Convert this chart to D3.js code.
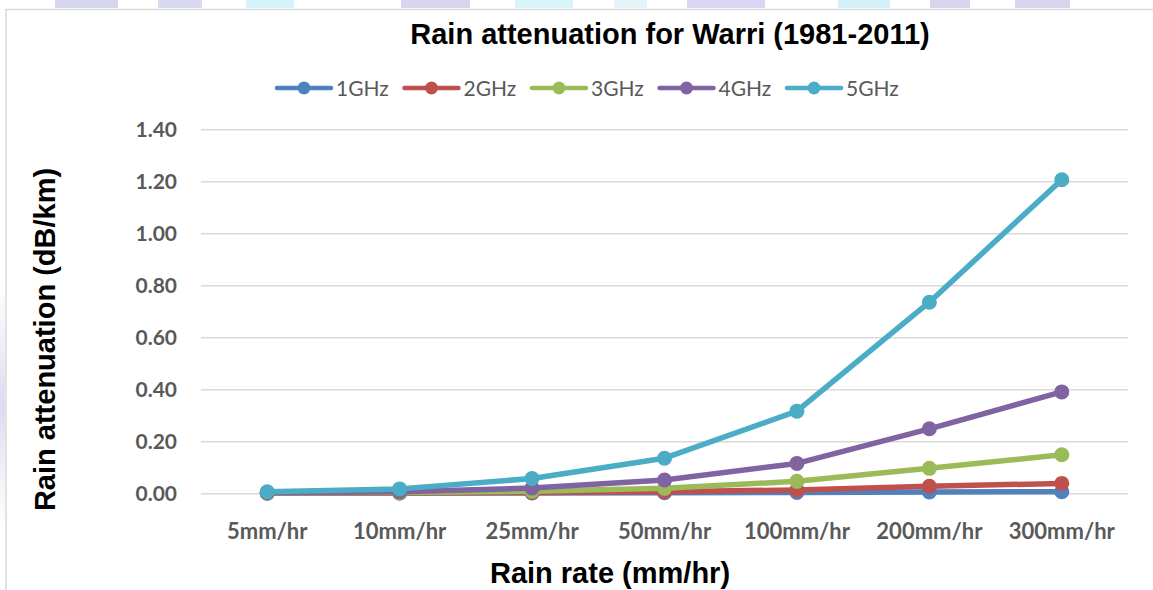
<!DOCTYPE html>
<html>
<head>
<meta charset="utf-8">
<script src="https://cdn.jsdelivr.net/npm/d3@7"></script>
<style>
  html, body { margin: 0; padding: 0; background: #fff; }
  svg { display: block; }
</style>
</head>
<body>
<script>
// Rain attenuation (dB/km) at Warri, 1981-2011, per rain rate and frequency
const categories = ["5mm/hr", "10mm/hr", "25mm/hr", "50mm/hr", "100mm/hr", "200mm/hr", "300mm/hr"];
const seriesNames = ["1GHz", "2GHz", "3GHz", "4GHz", "5GHz"];
const att1GHz = [0.000, 0.001, 0.001, 0.002, 0.003, 0.005, 0.006];
const att2GHz = [0.001, 0.001, 0.003, 0.006, 0.013, 0.027, 0.038];
const att3GHz = [0.001, 0.003, 0.008, 0.019, 0.046, 0.096, 0.148];
const att4GHz = [0.002, 0.006, 0.020, 0.051, 0.115, 0.248, 0.390];
const att5GHz = [0.006, 0.017, 0.057, 0.135, 0.316, 0.735, 1.206];
const yTicks = [0, 0.2, 0.4, 0.6, 0.8, 1.0, 1.2, 1.4];

const seriesValues = [att1GHz, att2GHz, att3GHz, att4GHz, att5GHz];
const colors = ["#4F81BD", "#C0504D", "#9BBB59", "#8064A2", "#4BACC6"];

const W = 1153, H = 590;
const svg = d3.select("body").append("svg").attr("width", W).attr("height", H);

// faint page decoration strip above the chart frame
const strip = [
  [55, 118, "#d6d6ee"], [158, 202, "#d8d8f2"], [246, 294, "#d4f2fa"], [401, 470, "#d8d6ee"],
  [515, 573, "#d8f6fa"], [614, 647, "#e4f4f8"], [687, 765, "#d8d6f2"], [838, 890, "#d4f0f8"],
  [930, 970, "#d8d6ee"], [1015, 1070, "#d8d6ee"]
];
svg.selectAll("rect.strip").data(strip).join("rect")
  .attr("x", d => d[0]).attr("y", 0).attr("width", d => d[1] - d[0]).attr("height", 8)
  .attr("fill", d => d[2]);
const grad = svg.append("defs").append("linearGradient").attr("id", "side")
  .attr("x1", 0).attr("x2", 0).attr("y1", 0).attr("y2", 1);
grad.append("stop").attr("offset", 0).attr("stop-color", "#e4e2f2").attr("stop-opacity", 0);
grad.append("stop").attr("offset", 0.5).attr("stop-color", "#dcdaf0").attr("stop-opacity", 1);
grad.append("stop").attr("offset", 1).attr("stop-color", "#e4e2f2").attr("stop-opacity", 0);
svg.append("rect").attr("x", 0).attr("y", 280).attr("width", 5).attr("height", 250).attr("fill", "url(#side)");

// chart frame (top and left edges visible)
svg.append("path").attr("d", "M6,590 V9.5 H1153")
  .attr("fill", "none").attr("stroke", "#d9d9d9").attr("stroke-width", 1.5);

const plot = { left: 201, right: 1128, top: 129.3, bottom: 493.3 };

const x = d3.scaleBand().domain(categories).range([plot.left, plot.right]);
const y = d3.scaleLinear().domain([0, 1.4]).range([plot.bottom, plot.top]);

// gridlines + y tick labels
const yAxis = d3.axisLeft(y).tickValues(yTicks).tickFormat(d3.format(".2f"))
  .tickSize(-(plot.right - plot.left)).tickPadding(24);
const gy = svg.append("g").attr("transform", `translate(${plot.left},0)`).call(yAxis);
gy.select(".domain").remove();
gy.selectAll(".tick line").attr("stroke", "#d9d9d9").attr("stroke-width", 1.5);
gy.selectAll(".tick text")
  .attr("fill", "#595959").attr("font-family", "Lato, 'Open Sans', sans-serif")
  .attr("font-weight", "bold").attr("font-size", 21).attr("dy", "0.35em");

// x tick labels
const xAxis = d3.axisBottom(x).tickSize(0).tickPadding(46);
const gx = svg.append("g").attr("transform", `translate(0,${plot.bottom})`).call(xAxis);
gx.select(".domain").remove();
gx.selectAll(".tick text")
  .attr("fill", "#595959").attr("font-family", "Lato, 'Open Sans', sans-serif")
  .attr("font-weight", "bold").attr("font-size", 22).attr("dy", 0);

// series lines and markers
const line = d3.line().x((d, i) => x(categories[i]) + x.bandwidth() / 2).y(d => y(d));
seriesValues.forEach((vals, s) => {
  const g = svg.append("g");
  g.append("path").datum(vals).attr("d", line)
    .attr("fill", "none").attr("stroke", colors[s]).attr("stroke-width", 5.5)
    .attr("stroke-linejoin", "round").attr("stroke-linecap", "round");
  g.selectAll("circle").data(vals).join("circle")
    .attr("cx", (d, i) => x(categories[i]) + x.bandwidth() / 2)
    .attr("cy", d => y(d)).attr("r", 7.5).attr("fill", colors[s]);
});

// legend
const legend = svg.append("g").attr("transform", "translate(277,88)");
seriesNames.forEach((name, s) => {
  const g = legend.append("g").attr("transform", `translate(${s * 127.5},0)`);
  g.append("line").attr("x1", 0).attr("x2", 54).attr("y1", 0).attr("y2", 0)
    .attr("stroke", colors[s]).attr("stroke-width", 4.5).attr("stroke-linecap", "round");
  g.append("circle").attr("cx", 27).attr("cy", 0).attr("r", 6.5).attr("fill", colors[s]);
  g.append("text").attr("x", 59).attr("y", 0).attr("dy", "0.36em")
    .attr("fill", "#595959").attr("font-family", "Lato, 'Open Sans', sans-serif")
    .attr("font-size", 21).text(name);
});

// titles
svg.append("text").attr("x", 670).attr("y", 44).attr("text-anchor", "middle")
  .attr("font-family", "'Liberation Sans', Arial, sans-serif").attr("font-weight", "bold")
  .attr("font-size", 29).attr("fill", "#000")
  .text("Rain attenuation for Warri (1981-2011)");

svg.append("text").attr("x", 610).attr("y", 583).attr("text-anchor", "middle")
  .attr("font-family", "'Liberation Sans', Arial, sans-serif").attr("font-weight", "bold")
  .attr("font-size", 29).attr("fill", "#000")
  .text("Rain rate (mm/hr)");

svg.append("text").attr("transform", "translate(55,339.5) rotate(-90)").attr("text-anchor", "middle")
  .attr("font-family", "'Liberation Sans', Arial, sans-serif").attr("font-weight", "bold")
  .attr("font-size", 29).attr("fill", "#000")
  .text("Rain attenuation (dB/km)");
</script>
</body>
</html>
